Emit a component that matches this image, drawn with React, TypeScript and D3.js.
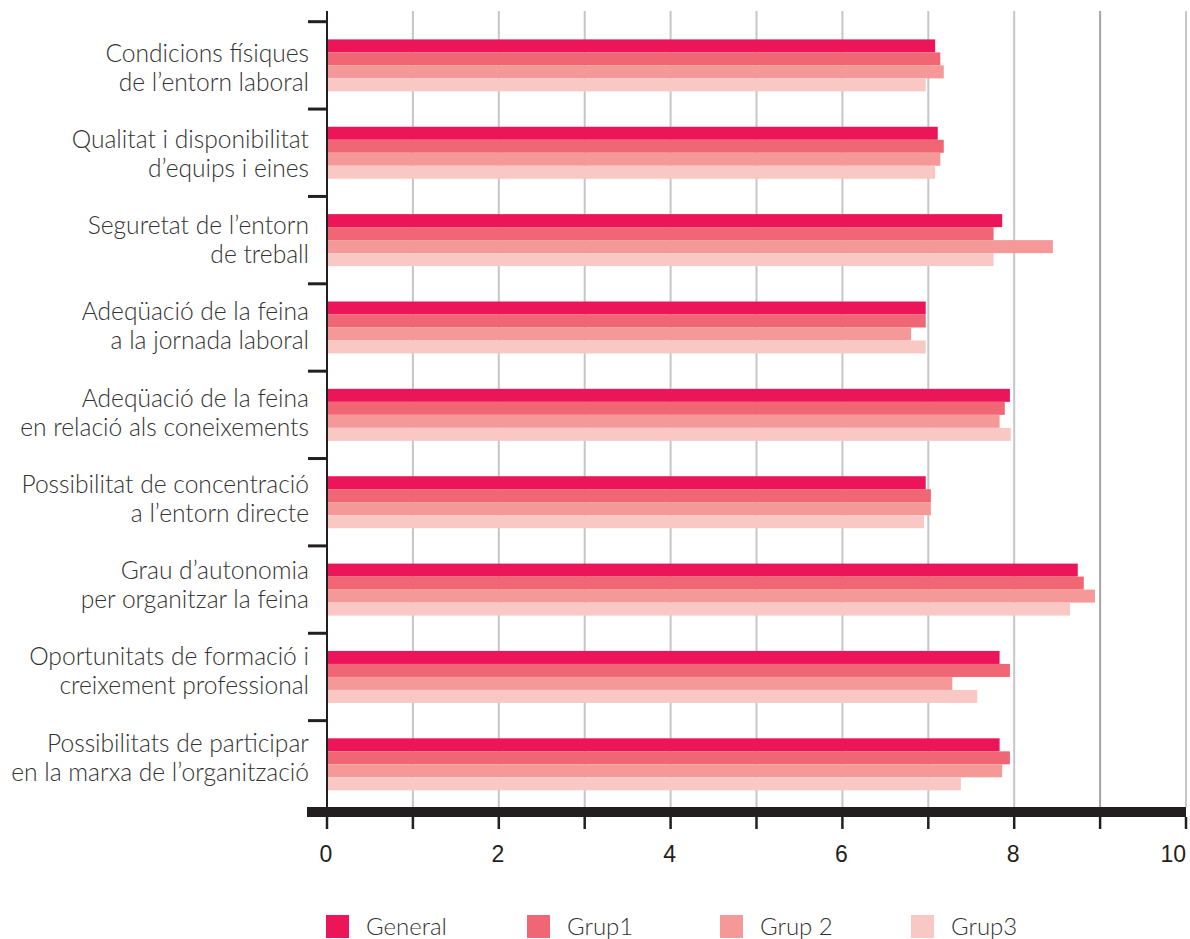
import React from "react";
import * as d3 from "d3";

const categories: string[][] = [
  ["Condicions físiques", "de l’entorn laboral"],
  ["Qualitat i disponibilitat", "d’equips i eines"],
  ["Seguretat de l’entorn", "de treball"],
  ["Adeqüació de la feina", "a la jornada laboral"],
  ["Adeqüació de la feina", "en relació als coneixements"],
  ["Possibilitat de concentració", "a l’entorn directe"],
  ["Grau d’autonomia", "per organitzar la feina"],
  ["Oportunitats de formació i", "creixement professional"],
  ["Possibilitats de participar", "en la marxa de l’organització"],
];

const seriesNames = ["General", "Grup1", "Grup 2", "Grup3"];
const seriesColors = ["#ec1559", "#f06674", "#f59898", "#f9c8c5"];

const general = [7.08, 7.11, 7.86, 6.97, 7.95, 6.97, 8.74, 7.83, 7.83];
const grup1 = [7.14, 7.18, 7.76, 6.97, 7.89, 7.03, 8.81, 7.95, 7.95];
const grup2 = [7.18, 7.14, 8.45, 6.8, 7.83, 7.03, 8.94, 7.28, 7.86];
const grup3 = [6.97, 7.08, 7.76, 6.97, 7.96, 6.95, 8.65, 7.57, 7.38];

const seriesValues = [general, grup1, grup2, grup3];
const xTicks = [0, 1, 2, 3, 4, 5, 6, 7, 8, 9, 10];
const xTickLabels = [0, 2, 4, 6, 8, 10];

const W = 1190;
const H = 939;
const legendX = [326, 527, 720, 911];

export default function App() {
  const x = d3.scaleLinear().domain([0, 10]).range([327, 1186]);
  const ids = categories.map((_, i) => String(i));
  const y = d3
    .scaleBand<string>()
    .domain(ids)
    .range([21.7, 808])
    .paddingInner(0.405)
    .paddingOuter(0.2025);
  const yInner = d3
    .scaleBand<string>()
    .domain(seriesNames)
    .range([0, y.bandwidth()]);
  const labelBase = d3.scaleLinear().domain([0, 8]).range([61.7, 751.7]);

  const labelFont = "Lato, 'Open Sans', sans-serif";

  return (
    <svg
      width={W}
      height={H}
      style={{ position: "absolute", left: 0, top: 0, background: "#fff" }}
    >
      {/* grid */}
      {xTicks.slice(1).map((t) => (
        <line
          key={"g" + t}
          x1={x(t)}
          x2={x(t)}
          y1={11}
          y2={807}
          stroke={t === 9 ? "#a3a3a3" : "#c6c6c6"}
          strokeWidth={2}
        />
      ))}
      {/* bars */}
      {ids.map((id, i) => (
        <g key={"c" + id} transform={`translate(0,${y(id)})`}>
          {seriesNames.map((s, j) => (
            <rect
              key={s}
              x={x(0)}
              y={yInner(s)}
              width={x(seriesValues[j][i]) - x(0)}
              height={yInner.bandwidth()}
              fill={seriesColors[j]}
            />
          ))}
        </g>
      ))}
      {/* left axis */}
      <line x1={327} x2={327} y1={11} y2={808} stroke="#231f20" strokeWidth={2} />
      {ids.map((id) => {
        const yy = (y(id) as number) - y.step() * 0.2025;
        return (
          <line
            key={"t" + id}
            x1={308}
            x2={327}
            y1={yy}
            y2={yy}
            stroke="#231f20"
            strokeWidth={3}
          />
        );
      })}
      {/* category labels */}
      {categories.map((lines, i) => (
        <text
          key={"l" + i}
          textAnchor="end"
          fontFamily={labelFont}
          fontWeight={300}
          fontSize={24.6}
          fill="#333"
        >
          <tspan x={309} y={labelBase(i)}>
            {lines[0]}
          </tspan>
          <tspan x={309} y={labelBase(i) + 28.8}>
            {lines[1]}
          </tspan>
        </text>
      ))}
      {/* bottom axis */}
      <rect x={307} y={807} width={x(10) - 307} height={10} fill="#231f20" />
      {xTicks.map((t) => (
        <line
          key={"bt" + t}
          x1={x(t)}
          x2={x(t)}
          y1={817}
          y2={829}
          stroke="#231f20"
          strokeWidth={2.5}
        />
      ))}
      {xTickLabels.map((t) => (
        <text
          key={"bl" + t}
          x={t === 10 ? x(t) : x(t) - 1}
          y={862}
          textAnchor={t === 10 ? "end" : "middle"}
          fontFamily="'Liberation Sans', Arial, sans-serif"
          fontSize={23}
          fill="#231f20"
        >
          {t}
        </text>
      ))}
      {/* legend */}
      {seriesNames.map((s, j) => (
        <g key={"lg" + s}>
          <rect x={legendX[j]} y={915} width={23} height={23} fill={seriesColors[j]} />
          <text
            x={legendX[j] + 40}
            y={935}
            fontFamily={labelFont}
            fontWeight={300}
            fontSize={24}
            fill="#333"
          >
            {s}
          </text>
        </g>
      ))}
    </svg>
  );
}
